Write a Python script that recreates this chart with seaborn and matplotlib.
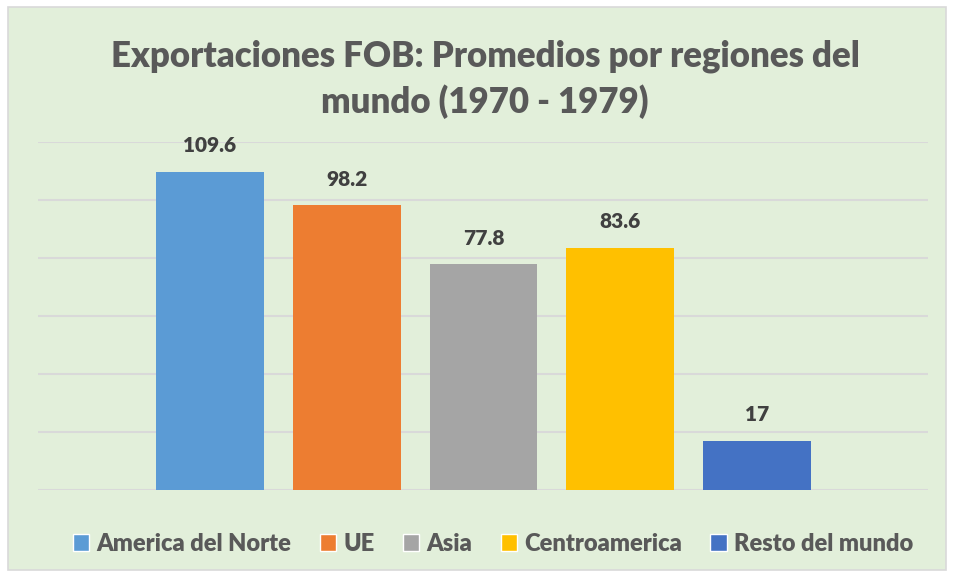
import matplotlib
matplotlib.use("Agg")
import matplotlib.pyplot as plt
from matplotlib.patches import Rectangle
import seaborn as sns
import pandas as pd

regions = ["America del Norte", "UE", "Asia", "Centroamerica", "Resto del mundo"]
values = [109.6, 98.2, 77.8, 83.6, 17]
labels = ["109.6", "98.2", "77.8", "83.6", "17"]
colors = ["#5B9BD5", "#ED7D31", "#A5A5A5", "#FFC000", "#4472C4"]
title = "Exportaciones FOB: Promedios por regiones del\nmundo (1970 - 1979)"

sns.set_theme(style="white")
plt.rcParams["font.family"] = ["Lato", "DejaVu Sans"]

df = pd.DataFrame({"region": regions, "value": values})

W, H = 954, 577
fig = plt.figure(figsize=(W / 100, H / 100), dpi=100)
fig.patch.set_facecolor("white")
bg = "#E2EFDA"
fig.patches.append(Rectangle((8 / W, 7 / H), (946 - 8) / W, (570 - 7) / H,
                             transform=fig.transFigure, facecolor=bg,
                             edgecolor="#D9D9D9", linewidth=1.2, zorder=-10))

ax = fig.add_axes([38 / W, (H - 490) / H, (928 - 38) / W, (490 - 142) / H])
ax.set_zorder(1)
ax.set_facecolor("none")
sns.barplot(data=df, x="region", y="value", hue="region", palette=colors,
            width=108 / 137, ax=ax, legend=False, saturation=1, linewidth=0)
ax.set_ylim(0, 120)
ax.set_xlim(-1.255, 5.248)
ax.set_yticks(range(0, 121, 20))
ax.yaxis.grid(True, color="#D9D9D9", linewidth=1.5)
ax.set_axisbelow(True)
ax.tick_params(left=False, bottom=False, labelleft=False, labelbottom=False)
for s in ax.spines.values():
    s.set_visible(False)
ax.set_xlabel("")
ax.set_ylabel("")

for i, (v, t) in enumerate(zip(values, labels)):
    ax.annotate(t, (i, v), xytext=(0, 12), textcoords="offset points",
                ha="center", va="bottom", fontsize=15, fontweight="heavy",
                color="#404040")

fig.text(485 / W, 1 - 79 / H, title, ha="center", va="center",
         fontsize=25, fontweight="heavy", color="#595959", linespacing=1.4)

handles = [Rectangle((0, 0), 1, 1, facecolor=c) for c in colors]
leg = fig.legend(handles, regions, loc="center", bbox_to_anchor=(493 / W, 1 - 544 / H),
                 ncol=5, frameon=False, handlelength=0.7,
                 handleheight=0.7, handletextpad=0.3, columnspacing=1.2,
                 prop={"weight": "heavy", "size": 17, "family": ["Lato", "DejaVu Sans"]})
for t in leg.get_texts():
    t.set_color("#595959")

fig.savefig("out.png", dpi=100, facecolor=fig.get_facecolor())
